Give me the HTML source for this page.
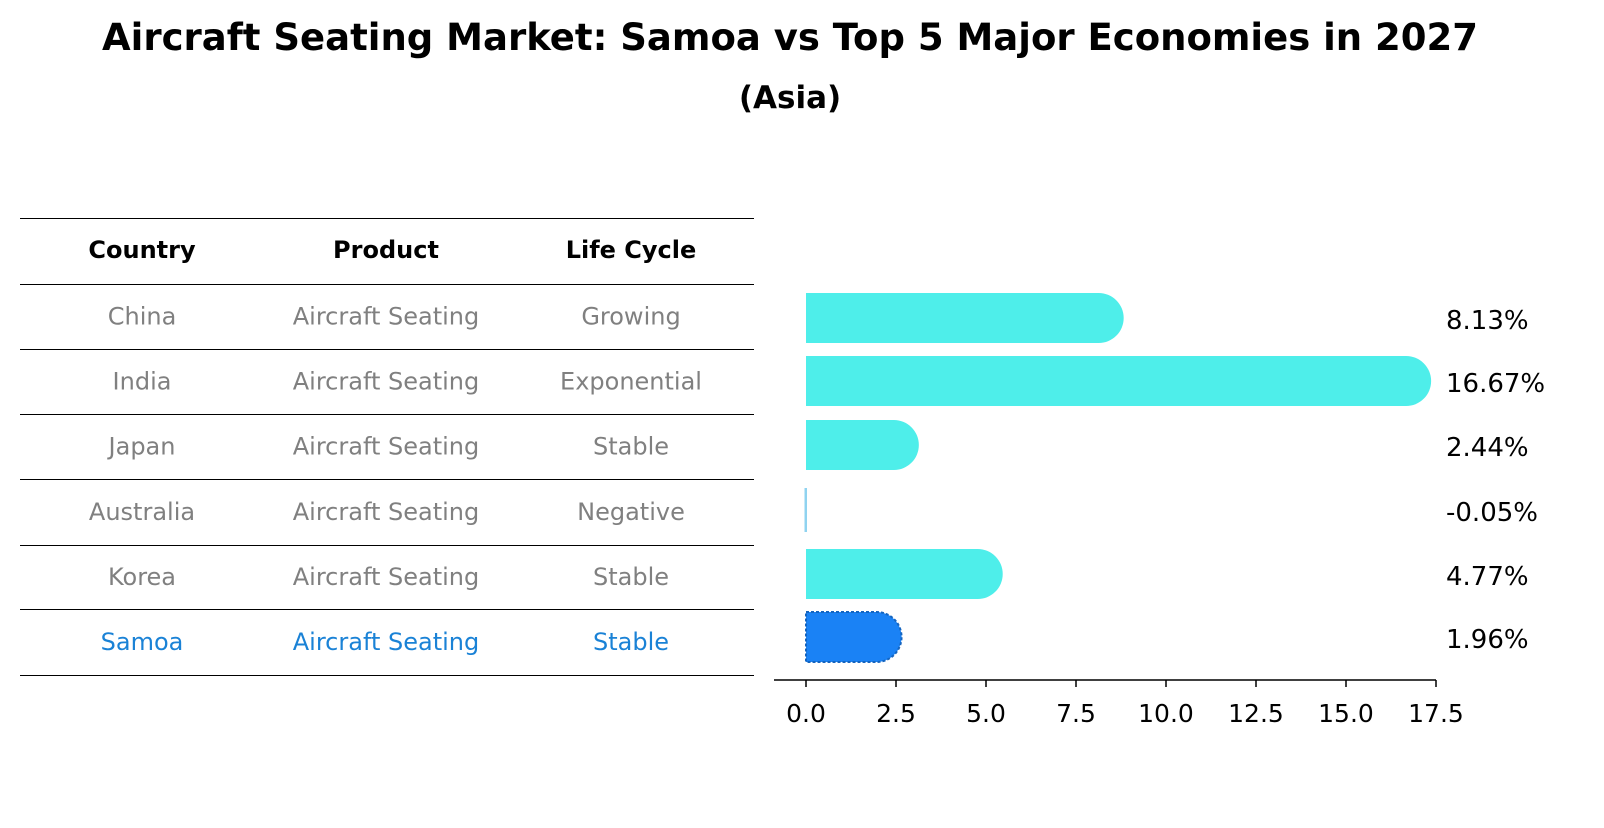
<!DOCTYPE html>
<html><head><meta charset="utf-8"><style>
body{margin:0;background:#fff;font-family:"Liberation Sans","DejaVu Sans",sans-serif}
</style></head><body>
<svg width="1604" height="823" font-family="DejaVu Sans, Liberation Sans, sans-serif">
<text x="790" y="50" text-anchor="middle" font-size="37" font-weight="bold">Aircraft Seating Market: Samoa vs Top 5 Major Economies in 2027</text>
<text x="790" y="108" text-anchor="middle" font-size="31" font-weight="bold">(Asia)</text>
<g id="table"></g>
<g id="bars"></g>
</svg>
<script>
const countries=["China","India","Japan","Australia","Korea","Samoa"];
const products=["Aircraft Seating","Aircraft Seating","Aircraft Seating","Aircraft Seating","Aircraft Seating","Aircraft Seating"];
const lifecycle=["Growing","Exponential","Stable","Negative","Stable","Stable"];
const values=[8.13,16.67,2.44,-0.05,4.77,1.96];
const ticks=[0,2.5,5,7.5,10,12.5,15,17.5];
const NS="http://www.w3.org/2000/svg";
function mk(p,t,a,txt){const e=document.createElementNS(NS,t);for(const k in a)e.setAttribute(k,a[k]);if(txt!==undefined)e.textContent=txt;p.appendChild(e);return e;}
const tb=document.getElementById('table');
const lineY=[218,284,349,414,479,545,609,675];
lineY.forEach(y=>{const l=mk(tb,'line',{x1:20,x2:754,y1:y+0.5,y2:y+0.5,stroke:'#000','stroke-width':1});

});
const cx=[142,386,631];
["Country","Product","Life Cycle"].forEach((h,i)=>{const t=mk(tb,'text',{x:cx[i],y:258,'text-anchor':'middle','font-size':24,'font-weight':'bold'},h);

});
countries.forEach((c,r)=>{const y=(lineY[r+1]+lineY[r+2])/2+8;const col=c==="Samoa"?"#1a82d6":"#808080";
[c,products[r],lifecycle[r]].forEach((v,i)=>{const t=mk(tb,'text',{x:cx[i],y:y,'text-anchor':'middle','font-size':24,fill:col},v);

});});
const g=document.getElementById('bars');
const x0=806,ppu=36;const X=v=>x0+v*ppu;
const centers=[318,381,445,510,574,637];const bh=50,r=25;
values.forEach((v,i)=>{const cy=centers[i];const y=cy-bh/2;const samoa=countries[i]==="Samoa";
const fill=samoa?"#1a82f5":"#4eeeea";
if(v>0){const xe=X(v);
const p=mk(g,'path',{d:`M${x0},${y} H${xe} A${r},${r} 0 0 1 ${xe},${y+bh} H${x0} Z`,fill:fill,stroke:samoa?"#1565c0":"none",'stroke-width':samoa?2:0,'stroke-dasharray':samoa?"3,2":"none"});

}
else{const p=mk(g,'rect',{x:x0-1.5,y:y+3,width:2.5,height:bh-6,fill:'#8fd3f0'});

}
const t=mk(g,'text',{x:1446,y:cy+11,'font-size':26},v.toFixed(2)+"%");

});
const ax=mk(g,'line',{x1:774,x2:X(17.5),y1:680,y2:680,stroke:'#000','stroke-width':1.5});


ticks.forEach(tv=>{const tl=mk(g,'line',{x1:X(tv),x2:X(tv),y1:680,y2:687,stroke:'#000','stroke-width':1.5});


const t=mk(g,'text',{x:X(tv),y:722,'text-anchor':'middle','font-size':25},tv.toFixed(1));

});
</script>
</body></html>
